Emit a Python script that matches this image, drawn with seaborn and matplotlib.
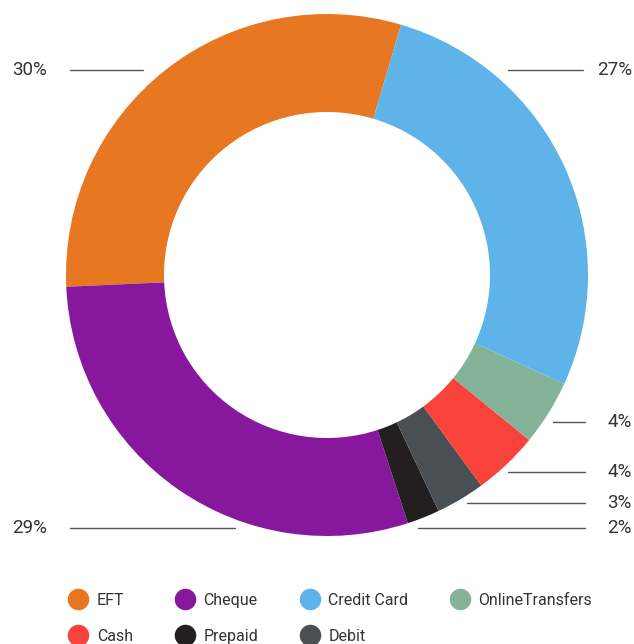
import numpy as np
import seaborn as sns
import matplotlib.pyplot as plt
from matplotlib.lines import Line2D

sns.set_theme(style="white")
plt.rcParams["font.family"] = ["Roboto", "DejaVu Sans"]

# legend order
categories = ["EFT", "Cheque", "Credit Card", "OnlineTransfers", "Cash", "Prepaid", "Debit"]
shares = [30, 29, 27, 4, 4, 2, 3]
colors = ["#E87722", "#87189D", "#5EB3E8", "#85B39A", "#F9423A", "#231F20", "#4A4F54"]

# order of the slices around the ring (counter clockwise from the top right)
ring_order = ["EFT", "Cheque", "Prepaid", "Debit", "Cash", "OnlineTransfers", "Credit Card"]

W, H = 634, 644
fig = plt.figure(figsize=(W / 100, H / 100), dpi=100)
ax = fig.add_axes([0, 0, 1, 1])

cx, cy, R = 327, H - 275, 261
vals = [shares[categories.index(c)] for c in ring_order]
cols = [colors[categories.index(c)] for c in ring_order]
ax.pie(vals, colors=cols, radius=R, center=(cx, cy), startangle=73.5, counterclock=True,
       wedgeprops=dict(width=98, linewidth=0))

ax.set_xlim(0, W)
ax.set_ylim(0, H)
ax.set_aspect("equal")
ax.axis("off")

# percentage callouts: (category, label y in px, line x from, line x to, side)
callouts = [
    ("EFT", 70, 70, 143, "left"),
    ("Cheque", 528, 70, 235, "left"),
    ("Credit Card", 70, 508, 583, "right"),
    ("OnlineTransfers", 422, 553, 585, "right"),
    ("Cash", 472, 508, 585, "right"),
    ("Debit", 503, 467, 585, "right"),
    ("Prepaid", 528, 418, 585, "right"),
]
for name, y, x0, x1, side in callouts:
    Y = H - y
    ax.plot([x0, x1], [Y, Y], color="#555555", lw=1)
    txt = f"{shares[categories.index(name)]}%"
    if side == "left":
        ax.text(12, Y, txt, ha="left", va="center", fontsize=13.5, color="#333333")
    else:
        ax.text(632, Y, txt, ha="right", va="center", fontsize=13.5, color="#333333")

handles = [Line2D([], [], marker="o", ls="none", markersize=15.5, markerfacecolor=c,
                  markeredgewidth=0) for c in colors]
# matplotlib fills legend columns first, so reorder to get row-wise layout
idx = [0, 4, 1, 5, 2, 6, 3]
ax.legend([handles[i] for i in idx], [categories[i] for i in idx], ncol=4,
          loc="upper left", bbox_to_anchor=(68 / W, (H - 593) / H), frameon=False,
          fontsize=11.5, handlelength=1.3, handletextpad=0.5, columnspacing=2.6,
          labelspacing=1.3, borderpad=0, borderaxespad=0, labelcolor="#333333")

fig.savefig("out.png", dpi=100)
